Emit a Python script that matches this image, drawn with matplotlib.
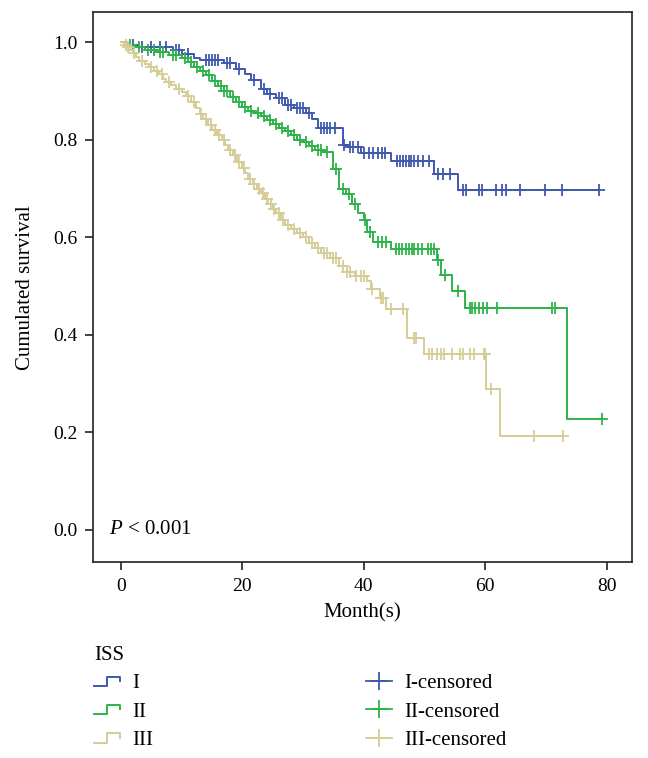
import numpy as np
import matplotlib
matplotlib.use('Agg')
import matplotlib.pyplot as plt
from matplotlib.lines import Line2D
from matplotlib.legend_handler import HandlerBase

plt.rcParams['font.family'] = ['Liberation Serif', 'DejaVu Serif']
plt.rcParams['mathtext.fontset'] = 'custom'
plt.rcParams['mathtext.it'] = 'Liberation Serif:italic'
plt.rcParams['mathtext.rm'] = 'Liberation Serif'

# ISS stage I: event times (months) and survival after each event
t1 = [1.0, 3.0, 8.5, 10, 12, 13, 17, 19, 20.5, 21.5, 23, 24, 25.5, 27, 28.5,
      30.5, 31.5, 32.5, 36.5, 37.5, 39.5, 44.5, 51.5, 55.5]
s1 = [0.995, 0.99, 0.985, 0.977, 0.968, 0.963, 0.957, 0.945, 0.935, 0.922, 0.905,
      0.895, 0.885, 0.872, 0.866, 0.855, 0.843, 0.824, 0.79, 0.785, 0.772, 0.756,
      0.730, 0.697]
c1 = [2, 3.5, 5, 6.5, 7.5, 9, 9.5, 11, 14, 14.5, 15, 15.5, 16, 17.5, 18, 19.5, 22,
      23.5, 24.5, 26, 26.5, 27.5, 28, 29, 29.5, 30, 31, 33.0, 33.5, 34.0, 34.5,
      35.2, 36.8, 37.8, 38.3, 39.0, 40.0, 40.8, 41.5, 42.3, 43.0, 43.5, 45.5, 46.0,
      46.5, 47.0, 47.4, 47.8, 48.3, 49.0, 49.8, 50.7, 52.2, 53.0, 54.2, 56.3, 56.8,
      59.0, 59.4, 61.8, 62.8, 63.5, 65.8, 69.9, 72.7, 78.8]
end1 = 78.8

# ISS stage II
t2 = [1, 2.5, 4, 6, 8, 10, 11, 12, 13, 14, 15, 16, 17, 18, 19, 20, 21, 22, 23, 24,
      25, 26, 27, 28, 29, 30, 31, 32, 33.5, 35, 36, 37, 38, 39, 40, 40.5, 41.5,
      44.5, 52.0, 52.8, 54.6, 56.7, 73.5]
s2 = [0.995, 0.99, 0.985, 0.98, 0.975, 0.968, 0.96, 0.95, 0.942, 0.932, 0.92, 0.91,
      0.90, 0.888, 0.878, 0.868, 0.86, 0.855, 0.848, 0.84, 0.832, 0.825, 0.818,
      0.81, 0.80, 0.795, 0.788, 0.78, 0.775, 0.74, 0.70, 0.688, 0.668, 0.65, 0.635,
      0.61, 0.59, 0.576, 0.553, 0.522, 0.49, 0.455, 0.227]
c2 = [1.5, 3, 4.5, 5.5, 6.5, 7, 8.5, 9, 10.5, 11.5, 12.5, 13.5, 14.5, 15.5, 16.5,
      17, 17.5, 18.5, 19.5, 20.5, 21.5, 22.5, 23.5, 24.5, 25.5, 26.5, 27.5, 28.5,
      29.5, 30.5, 31.5, 32.5, 33, 34, 35.5, 36.5, 37.5, 38.5, 40.2, 41.0, 42.3,
      43.0, 43.6, 45.3, 45.8, 46.3, 47.0, 47.5, 47.9, 48.3, 49.0, 49.6, 50.5, 51.0,
      51.5, 52.3, 53.3, 55.5, 57.5, 57.9, 58.4, 59.0, 59.6, 60.3, 62.0, 71.0, 71.5,
      79.2]
end2 = 79.2

# ISS stage III
t3 = [0.5, 1.0, 1.5, 2, 2.5, 3, 4, 4.7, 5.5, 6.3, 7, 7.5, 8.3, 9.1, 10, 10.7, 11.5,
      12.4, 13, 13.5, 14.3, 15, 15.8, 16.6, 17.2, 17.7, 18.5, 19.2, 20, 20.5, 21,
      21.7, 22.4, 23.1, 23.7, 24.3, 25, 25.5, 26.3, 27, 28, 29, 30, 31, 32, 33,
      34.5, 36, 37.2, 38.5, 40.5, 41.2, 42.6, 43.7, 47.2, 50, 60.2, 62.4]
s3 = [0.995, 0.99, 0.985, 0.978, 0.97, 0.962, 0.955, 0.949, 0.942, 0.935, 0.925,
      0.918, 0.912, 0.905, 0.898, 0.89, 0.878, 0.865, 0.852, 0.842, 0.83, 0.82,
      0.81, 0.80, 0.79, 0.78, 0.768, 0.755, 0.742, 0.732, 0.72, 0.71, 0.70, 0.69,
      0.678, 0.668, 0.658, 0.65, 0.635, 0.625, 0.618, 0.608, 0.600, 0.588, 0.578,
      0.568, 0.557, 0.542, 0.528, 0.52, 0.51, 0.495, 0.476, 0.452, 0.393, 0.36,
      0.289, 0.193]
c3 = [0.8, 1.2, 2.2, 3.5, 5, 6, 6.8, 8, 9.5, 11, 12, 13.2, 14, 14.8, 15.5, 16.2, 17,
      18, 18.8, 19.5, 20.3, 21.3, 22, 22.8, 23.4, 24, 24.7, 25.2, 26, 26.7, 27.5,
      28.5, 29.5, 30.5, 31.5, 32.5, 33.5, 34, 35, 35.5, 36.5, 37.3, 37.8, 38.8,
      39.5, 40.0, 41.3, 42.8, 43.2, 44.5, 46.5, 48.2, 48.6, 50.8, 51.3, 52.0, 52.8,
      53.2, 54.5, 55.9, 56.3, 57.5, 58.2, 59.8, 60.0, 61.0, 68.1, 72.8]
end3 = 72.8

groups = ['I', 'II', 'III']
colors = ['#3F58AC', '#2DB34A', '#D5CD97']


class StepHandler(HandlerBase):
    # little step glyph used by SPSS-style KM legends
    def create_artists(self, legend, orig_handle, xdescent, ydescent, width, height,
                       fontsize, trans):
        w, h = width, height
        x = np.array([0, 0.5, 0.5, 1.0, 1.0]) * w - xdescent
        y = np.array([0.15, 0.15, 0.8, 0.8, 0.5]) * h - ydescent
        ln = Line2D(x, y, color=orig_handle.get_color(), lw=1.4)
        ln.set_transform(trans)
        return [ln]


def surv_at(times, surv, t):
    idx = np.searchsorted(times, t, side='right')
    vals = np.concatenate([[1.0], surv])
    return vals[idx]


fig = plt.figure(figsize=(6.48, 7.58), dpi=100)
ax = fig.add_axes([0.1435, 0.258, 0.832, 0.726])

data = [(t1, s1, c1, end1), (t2, s2, c2, end2), (t3, s3, c3, end3)]
step_handles = []
cens_handles = []
for (t, s, c, end), name, col in zip(data, groups, colors):
    t = np.array(t, dtype=float)
    s = np.array(s, dtype=float)
    xs = np.concatenate([[0], t, [end]])
    ys = np.concatenate([[1.0], s, [s[-1]]])
    ax.step(xs, ys, where='post', color=col, lw=1.4)
    c = np.array(c, dtype=float)
    ax.plot(c, surv_at(t, s, c), ls='none', marker='+', ms=9, mew=1.3, color=col)
    step_handles.append(Line2D([], [], color=col, label=name))
    cens_handles.append(Line2D([], [], color=col, lw=1.3, marker='+', ms=13, mew=1.3,
                               label=name + '-censored'))

ax.set_xlim(-4.6, 84.2)
ax.set_ylim(-0.067, 1.062)
ax.set_xticks([0, 20, 40, 60, 80])
ax.set_yticks([0.0, 0.2, 0.4, 0.6, 0.8, 1.0])
ax.set_yticklabels(['0.0', '0.2', '0.4', '0.6', '0.8', '1.0'])
ax.tick_params(labelsize=14, length=6, width=1.2, color='#222222', pad=5)
for sp in ax.spines.values():
    sp.set_linewidth(1.2)
    sp.set_color('#222222')
ax.set_xlabel('Month(s)', fontsize=15, labelpad=6)
ax.set_ylabel('Cumulated survival', fontsize=15, labelpad=13)
ax.text(-2.0, 0.0, r'$P$ < 0.001', fontsize=15, va='center', ha='left')

handler_map = {h: StepHandler() for h in step_handles}
leg = fig.legend(step_handles + cens_handles, [h.get_label() for h in step_handles + cens_handles],
                 ncol=2, loc='upper left', bbox_to_anchor=(0.145, 0.1478),
                 frameon=False, title='ISS', fontsize=15, title_fontsize=15,
                 handler_map=handler_map, handlelength=1.25, handletextpad=0.6,
                 columnspacing=10.2, labelspacing=0.42, alignment='left', borderpad=0,
                 borderaxespad=0)

fig.savefig('out.png', dpi=100)
